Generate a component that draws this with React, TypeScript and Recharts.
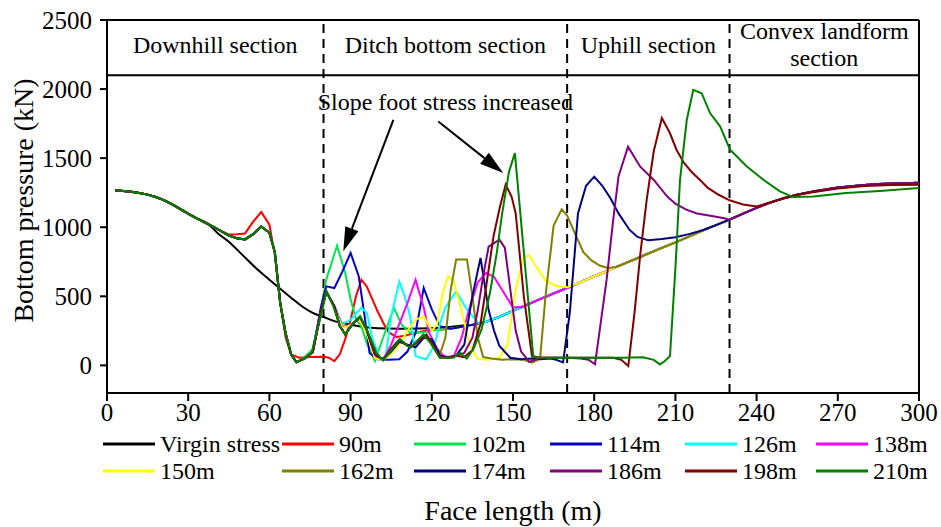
import React from "react";
import { Legend, Line, LineChart, ReferenceArea, ReferenceLine, XAxis, YAxis } from "recharts";

type Pt = [number, number];

const FONT = '"Liberation Serif", "Times New Roman", serif';

const xTicks = [0, 30, 60, 90, 120, 150, 180, 210, 240, 270, 300];
const yTicks = [0, 500, 1000, 1500, 2000, 2500];
const sectionBorders = [80, 170, 230];
const sections = [
  { from: 0, to: 80, lines: ["Downhill section"] },
  { from: 80, to: 170, lines: ["Ditch bottom section"] },
  { from: 170, to: 230, lines: ["Uphill section"] },
  { from: 230, to: 300, lines: ["Convex landform", "section"] },
];

// virgin (pre-mining) stress along the face
const virgin: Pt[] = [
  [3, 1268], [9, 1255], [15, 1236], [21, 1195], [27, 1130], [33, 1065], [37, 1030], [41, 955],
  [45, 895], [50, 800], [55, 705], [60, 620], [64, 555], [68, 490], [72, 428], [76, 380],
  [80, 350], [85, 315], [90, 296], [95, 277], [100, 268], [108, 265], [115, 266], [123, 272],
  [130, 285], [135, 295], [140, 315], [150, 395], [160, 480], [170, 560], [180, 645], [190, 727],
  [200, 810], [210, 890], [220, 975], [230, 1055], [240, 1140], [250, 1210], [260, 1255],
  [270, 1285], [280, 1305], [290, 1315], [300, 1320],
];

// part shared by every mining step before the goaf
const head: Pt[] = [
  [3, 1268], [6, 1263], [9, 1256], [12, 1247], [15, 1236], [18, 1219], [21, 1196], [24, 1167],
  [27, 1133], [30, 1098], [33, 1066], [36, 1036], [39, 1006], [42, 974],
];
const fall: Pt[] = [
  [45, 940], [48, 920], [51, 912], [54, 950], [57, 1005], [60, 960], [62, 820], [64, 450],
  [66, 230], [68, 80], [70, 22],
];
// rising stretch ahead of the face where the curves meet again
const rise: Pt[] = [
  [120, 255], [125, 262], [130, 275], [135, 293], [140, 315], [145, 352], [150, 395], [155, 437],
  [160, 480], [165, 520], [170, 560], [175, 602], [180, 645], [185, 686], [190, 727], [195, 768],
  [200, 810], [205, 850], [210, 890], [215, 932], [220, 975], [225, 1015], [230, 1055],
  [235, 1098], [240, 1140], [245, 1178], [250, 1210], [255, 1235], [260, 1255], [265, 1272],
  [270, 1287], [275, 1297], [280, 1306], [285, 1312], [290, 1316], [295, 1319], [300, 1322],
];

const f90: Pt[] = [
  [45, 948], [48, 950], [51, 955], [54, 1040], [57, 1110], [60, 1018], [62, 800], [64, 450],
  [66, 200], [68, 80], [71, 55], [75, 60], [80, 62], [82, 55], [84, 30], [86, 80], [88, 190],
  [90, 330], [92, 500], [94, 620], [96, 570], [98, 480], [100, 390], [102, 310], [104, 240],
  [107, 205], [110, 215], [114, 235], [118, 252],
];
const f102: Pt[] = [
  [73, 60], [76, 116], [79, 400], [81, 621], [85, 867], [88, 670], [90, 480], [92, 333], [94, 280],
  [96, 160], [99, 31], [102, 200], [106, 417], [109, 290], [112, 238], [116, 238], [119, 245],
];
const f114: Pt[] = [
  [73, 50], [76, 100], [79, 420], [81, 572], [84, 560], [87, 680], [90, 814], [93, 645], [95, 380],
  [97, 90], [100, 45], [104, 40], [108, 45], [111, 100], [114, 236], [117, 561], [120, 405],
  [123, 284], [127, 265],
];
const f126: Pt[] = [
  [73, 50], [76, 100], [79, 380], [81, 530], [84, 430], [87, 300], [90, 330], [94, 417], [96, 381],
  [98, 200], [101, 43], [103, 68], [105, 356], [108, 607], [110, 500], [112, 356], [114, 68],
  [118, 43], [121, 150], [123, 300], [125, 417], [129, 537], [133, 405], [138, 290],
];
const f138: Pt[] = [
  [73, 50], [76, 100], [79, 380], [81, 530], [84, 430], [87, 280], [90, 290], [93, 340], [96, 240],
  [99, 60], [102, 40], [105, 150], [108, 300], [111, 450], [114, 620], [117, 420], [119, 236],
  [122, 120], [125, 55], [128, 60], [131, 200], [134, 420], [137, 600], [140, 670], [143, 640],
  [146, 545], [150, 420], [154, 425],
];
const f150: Pt[] = [
  [73, 50], [76, 100], [79, 380], [81, 530], [84, 420], [87, 270], [90, 290], [93, 340], [96, 230],
  [99, 50], [102, 40], [105, 80], [108, 150], [111, 250], [114, 330], [117, 356], [120, 250],
  [122, 300], [124, 520], [126, 645], [128, 610], [131, 400], [134, 150], [137, 45], [141, 40],
  [145, 55], [148, 150], [151, 550], [154, 790], [156, 795], [159, 700], [162, 615], [166, 575],
  [170, 565],
];
const f162: Pt[] = [
  [73, 50], [76, 95], [79, 380], [81, 535], [84, 425], [86, 285], [88, 225], [91, 305], [93.5, 350],
  [96, 255], [99, 80], [102, 40], [105, 110], [108, 180], [111, 140], [114, 150], [117, 220],
  [120, 170], [123, 80], [125, 200], [127, 550], [129, 766], [133, 766], [135, 500], [137, 200],
  [139, 60], [142, 50], [146, 40], [150, 45], [154, 40], [157, 20], [160, 47], [162, 500],
  [165, 1012], [168, 1130], [170, 1084], [173, 950], [176, 819], [179, 760], [182, 723],
  [185, 705], [188, 712],
];
const f174: Pt[] = [
  [73, 50], [76, 95], [79, 380], [81, 535], [84, 425], [86, 285], [88, 225], [91, 305], [93.5, 350],
  [96, 255], [99, 80], [102, 45], [105, 100], [108, 170], [111, 150], [114, 130], [117, 200],
  [120, 190], [123, 70], [126, 60], [129, 70], [132, 150], [135, 501], [138, 778], [141, 400],
  [143, 250], [145, 140], [149, 55], [153, 45], [157, 50], [160, 45], [164, 50], [166, 40],
  [168.5, 22], [171, 383], [174, 1100], [177, 1300], [180, 1366], [183, 1300], [186, 1210],
  [189, 1100], [193, 982], [196, 930], [200, 905], [205, 915], [210, 928], [215, 950], [220, 978],
];
const f186: Pt[] = [
  [73, 50], [76, 95], [79, 380], [81, 535], [84, 425], [86, 285], [88, 225], [91, 305], [93.5, 350],
  [96, 255], [99, 80], [102, 40], [105, 120], [108, 185], [112, 130], [115, 175], [118, 220],
  [120, 160], [123, 60], [126, 55], [129, 70], [132, 90], [135, 200], [137, 400], [139, 650],
  [141, 860], [145, 910], [147, 850], [149, 550], [151, 250], [153, 100], [156, 25], [160, 55],
  [165, 55], [170, 55], [175, 50], [178, 40], [180.3, 8], [182, 250], [184.6, 622], [187, 1050],
  [189, 1369], [192.5, 1583], [197, 1438], [202, 1342], [207, 1222], [210, 1170], [214, 1127],
  [218, 1100], [224, 1079], [228, 1065],
];
const f198: Pt[] = [
  [73, 50], [76, 95], [79, 380], [81, 535], [84, 425], [86, 285], [88, 225], [91, 305], [93.5, 350],
  [96, 255], [99, 80], [102, 40], [105, 120], [108, 188], [112, 130], [115, 178], [118, 222],
  [120, 160], [123, 55], [126, 55], [129, 70], [132, 60], [135, 110], [138, 300], [140, 560],
  [142.8, 935], [145.2, 1150], [147.3, 1308], [149.5, 1220], [151, 1100], [154, 500], [157, 68],
  [160, 55], [170, 55], [180, 55], [187, 55], [190, 40], [192.6, -5], [195, 400], [197, 800],
  [199.4, 1200], [202, 1550], [205, 1790], [208, 1680], [210.4, 1561], [213, 1470], [216, 1400],
  [219, 1344], [222, 1285], [226, 1235], [230, 1195], [235, 1165], [240, 1150], [245, 1180],
  [250, 1210], [255, 1235], [260, 1252], [270, 1280], [280, 1298], [290, 1305], [300, 1308],
];
const f210: Pt[] = [
  [73, 50], [75.6, 91], [79.3, 380], [81.1, 537], [83.6, 429], [86.1, 284], [88, 224], [91, 308],
  [93.5, 356], [96, 260], [99.6, 91], [102, 35], [105, 110], [108.3, 188], [112, 128], [116.9, 224],
  [119.4, 164], [123, 55], [128, 55], [130.4, 91], [132.9, 50], [135.3, 115], [138.4, 260],
  [141.5, 525], [144, 814], [146, 1100], [148.5, 1400], [150.7, 1536], [153, 1037], [155, 604],
  [157.5, 61], [160, 55], [170, 55], [180, 55], [190, 55], [198, 58], [202, 40], [204.3, 7],
  [206, 30], [208, 67], [210, 700], [211.7, 1342], [214.2, 1776], [216.6, 1994], [219.7, 1970],
  [222.8, 1826], [226.5, 1730], [230.2, 1561], [236.3, 1441], [242.5, 1344], [248.6, 1260],
  [253.5, 1218], [261, 1223], [273, 1247], [285.5, 1262], [300, 1284],
];

const steps = [
  { name: "90m", color: "#FF0000", own: f90, withFall: false },
  { name: "102m", color: "#00E64D", own: f102, withFall: true },
  { name: "114m", color: "#0000CC", own: f114, withFall: true },
  { name: "126m", color: "#00FFFF", own: f126, withFall: true },
  { name: "138m", color: "#FF00FF", own: f138, withFall: true },
  { name: "150m", color: "#FFFF00", own: f150, withFall: true },
  { name: "162m", color: "#808000", own: f162, withFall: true },
  { name: "174m", color: "#000080", own: f174, withFall: true },
  { name: "186m", color: "#800080", own: f186, withFall: true },
  { name: "198m", color: "#800000", own: f198, withFall: true },
  { name: "210m", color: "#008000", own: f210, withFall: true },
];

const rows = (pts: Pt[]) => pts.map(([x, v]) => ({ x, v }));

const buildStep = (own: Pt[], withFall: boolean) => {
  const last = own[own.length - 1][0];
  return rows([...head, ...(withFall ? fall : []), ...own, ...rise.filter((p) => p[0] > last)]);
};

const legendItems = [{ name: "Virgin stress", color: "#000000" }, ...steps];
const legendCols = [103, 282, 414, 550, 685, 816];

function LegendGrid() {
  return (
    <div style={{ position: "relative", width: 941, height: 60, fontFamily: FONT, fontSize: 24 }}>
      {legendItems.map((it, i) => {
        const left = legendCols[i % 6];
        const top = i < 6 ? 2 : 29;
        return (
          <div key={it.name} style={{ position: "absolute", left, top, height: 28, display: "flex", alignItems: "center", whiteSpace: "nowrap" }}>
            <svg width={52} height={4} style={{ marginRight: 5 }}>
              <line x1={0} y1={2} x2={52} y2={2} stroke={it.color} strokeWidth={3} />
            </svg>
            <span style={{ color: "#000" }}>{it.name}</span>
          </div>
        );
      })}
    </div>
  );
}

function SectionText({ viewBox, lines, size = 24, shift = -3 }: any) {
  const cx = viewBox.x + viewBox.width / 2;
  const cy = viewBox.y + viewBox.height / 2 + shift;
  const gap = 27;
  const y0 = cy - ((lines.length - 1) * gap) / 2;
  return (
    <text x={cx} textAnchor="middle" fontFamily={FONT} fontSize={size} fill="#000">
      {lines.map((l: string, i: number) => (
        <tspan key={l} x={cx} y={y0 + i * gap} dominantBaseline="central">
          {l}
        </tspan>
      ))}
    </text>
  );
}

function Arrow(props: any) {
  const { x1, y1, x2, y2 } = props;
  const ang = Math.atan2(y2 - y1, x2 - x1);
  const len = 24;
  const half = 7;
  const bx = x2 - len * Math.cos(ang);
  const by = y2 - len * Math.sin(ang);
  const px = -Math.sin(ang) * half;
  const py = Math.cos(ang) * half;
  return (
    <g>
      <line x1={x1} y1={y1} x2={bx} y2={by} stroke="#000" strokeWidth={2} />
      <polygon points={`${x2},${y2} ${bx + px},${by + py} ${bx - px},${by - py}`} fill="#000" />
    </g>
  );
}

function YTitle({ viewBox }: any) {
  const x = viewBox.x + 23;
  const y = viewBox.y + viewBox.height / 2 - 6;
  return (
    <text x={x} y={y} transform={`rotate(-90, ${x}, ${y})`} textAnchor="middle" dominantBaseline="central" fontFamily={FONT} fontSize={28} fill="#000">
      Bottom pressure (kN)
    </text>
  );
}

function XTitle({ viewBox }: any) {
  const x = viewBox.x + viewBox.width / 2;
  const y = viewBox.y + 117;
  return (
    <text x={x} y={y} textAnchor="middle" dominantBaseline="central" fontFamily={FONT} fontSize={28} fill="#000">
      Face length (m)
    </text>
  );
}

const tickStyle = { fontFamily: FONT, fontSize: 25, fill: "#000" };

export default function App() {
  return (
    <div style={{ position: "absolute", left: 0, top: 0, width: 941, height: 527, background: "#fff" }}>
      <LineChart width={941} height={527} margin={{ top: 20, right: 22, left: 0, bottom: 0 }}>
        <XAxis
          type="number"
          dataKey="x"
          domain={[0, 300]}
          ticks={xTicks}
          allowDataOverflow
          height={74}
          stroke="#000"
          strokeWidth={2}
          tickSize={8}
          tickMargin={2}
          tick={tickStyle}
          label={<XTitle />}
        />
        <YAxis
          type="number"
          dataKey="v"
          domain={[-200, 2500]}
          ticks={yTicks}
          allowDataOverflow
          width={107}
          stroke="#000"
          strokeWidth={2}
          tickSize={7}
          tickMargin={8}
          tick={tickStyle}
          label={<YTitle />}
        />
        <ReferenceLine y={2500} stroke="#000" strokeWidth={2} />
        <ReferenceLine x={300} stroke="#000" strokeWidth={2} />
        <ReferenceLine y={2100} stroke="#000" strokeWidth={2} />
        {sectionBorders.map((b) => (
          <ReferenceLine key={b} x={b} stroke="#000" strokeWidth={2} strokeDasharray="9 6" />
        ))}
        {sections.map((s) => (
          <ReferenceArea
            key={s.from}
            x1={s.from}
            x2={s.to}
            y1={2100}
            y2={2500}
            fill="none"
            fillOpacity={0}
            stroke="none"
            label={<SectionText lines={s.lines} />}
          />
        ))}
        <ReferenceArea
          x1={78}
          x2={172}
          y1={1820}
          y2={1990}
          fill="none"
          fillOpacity={0}
          stroke="none"
          label={<SectionText lines={["Slope foot stress increased"]} shift={0} />}
        />
        <ReferenceLine segment={[{ x: 105.8, y: 1777 }, { x: 87.3, y: 826 }]} shape={<Arrow />} />
        <ReferenceLine segment={[{ x: 122.4, y: 1765 }, { x: 146.4, y: 1392 }]} shape={<Arrow />} />
        <Line
          data={rows(virgin)}
          dataKey="v"
          name="Virgin stress"
          type="monotone"
          stroke="#000"
          strokeWidth={2}
          dot={false}
          isAnimationActive={false}
        />
        {steps.map((s) => (
          <Line
            key={s.name}
            data={buildStep(s.own, s.withFall)}
            dataKey="v"
            name={s.name}
            type="linear"
            stroke={s.color}
            strokeWidth={2}
            dot={false}
            isAnimationActive={false}
          />
        ))}
        <Legend
          verticalAlign="bottom"
          wrapperStyle={{ top: 428, left: 0, width: 941, height: 60 }}
          content={() => <LegendGrid />}
        />
      </LineChart>
    </div>
  );
}
